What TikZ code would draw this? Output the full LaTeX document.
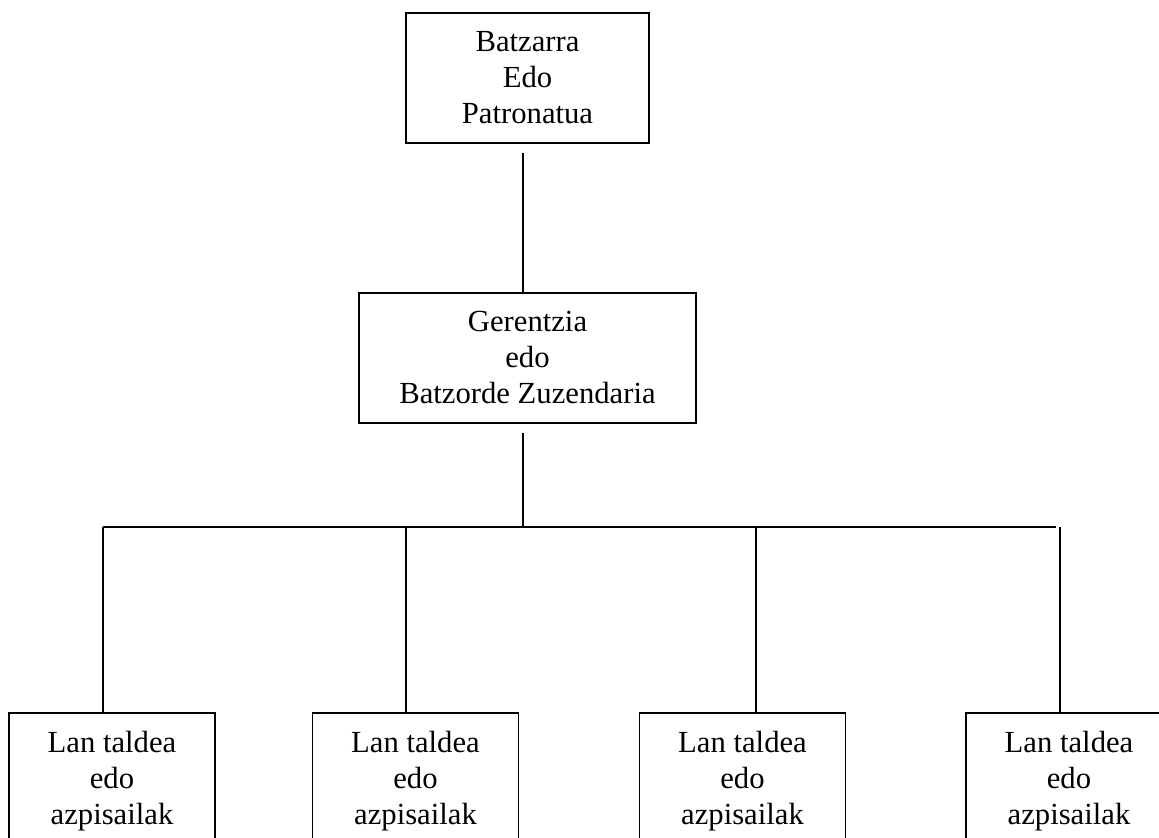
\documentclass[tikz,border=0pt]{standalone}
\usepackage{fontspec}
\setmainfont{Liberation Serif}
\tikzset{
  orgbox/.style={draw=black, line width=1.1pt, fill=none, align=center, inner sep=0pt,
    font=\fontsize{23}{27}\selectfont},
  topbox/.style={orgbox, minimum width=182.25pt, minimum height=97.5pt},
  midbox/.style={orgbox, minimum width=252.75pt, minimum height=97.5pt},
  lanbox/.style={orgbox, minimum width=154.5pt, minimum height=102pt},
  orgline/.style={draw=black, line width=1.1pt}
}
\begin{document}
\begin{tikzpicture}[x=0.75pt,y=0.75pt]
\useasboundingbox (0,0) rectangle (1159,838);
\clip (0,0) rectangle (1159,838);
\node [topbox] (batzarra) at (527.5,760) {Batzarra\\Edo\\Patronatua};
\node [midbox] (gerentzia) at (527.5,480) {Gerentzia\\edo\\Batzorde Zuzendaria};
\node [lanbox] (lan1) at (112,57) {Lan taldea\\edo\\azpisailak};
\node [lanbox] (lan2) at (415.5,57) {Lan taldea\\edo\\azpisailak};
\node [lanbox] (lan3) at (742.5,57) {Lan taldea\\edo\\azpisailak};
\node [lanbox] (lan4) at (1069,57) {Lan taldea\\edo\\azpisailak};
\coordinate (spine) at (523,311);
\coordinate (d1) at (103,311);
\coordinate (d2) at (406,311);
\coordinate (d3) at (756,311);
\coordinate (d4) at (1060,311);
\coordinate (hend) at (1056,311);
\draw [orgline, shorten <=7pt] (batzarra.south -| spine) -- (gerentzia.north -| spine);
\draw [orgline, shorten <=7pt] (gerentzia.south -| spine) -- (spine);
\draw [orgline] (d1) -- (hend);
\draw [orgline] (d1) -- (d1 |- lan1.north);
\draw [orgline] (d2) -- (d2 |- lan2.north);
\draw [orgline] (d3) -- (d3 |- lan3.north);
\draw [orgline] (d4) -- (d4 |- lan4.north);
\end{tikzpicture}
\end{document}
